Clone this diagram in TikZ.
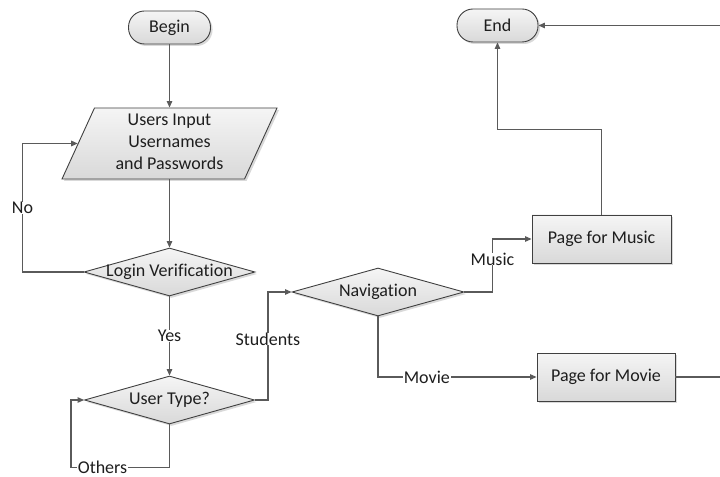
\documentclass[tikz,border=0pt]{standalone}
\usepackage{fontspec}
\setmainfont{Carlito}[Ligatures=NoCommon]
\usetikzlibrary{shapes.geometric,arrows.meta,shadows,calc}
\definecolor{linec}{HTML}{5A5A5A}
\definecolor{borderc}{HTML}{404040}
\definecolor{txtc}{HTML}{1E1E1E}
\begin{document}
\begin{tikzpicture}[x=1bp,y=-1bp,
  every node/.style={font=\fontsize{18bp}{22bp}\selectfont, text=txtc},
  shp/.style={draw=borderc, line width=0.9bp, top color=black!4, bottom color=black!15,
    drop shadow={shadow xshift=2bp, shadow yshift=-2bp, fill=black!15, opacity=1}},
  term/.style={shp, rectangle, rounded corners=16bp, minimum width=82bp, minimum height=33bp, inner sep=0pt},
  proc/.style={shp, rectangle, minimum height=48bp, inner sep=0pt},
  dec/.style={shp, diamond, minimum width=171bp, minimum height=48bp, inner sep=0pt},
  io/.style={shp, trapezium, trapezium left angle=63.8, trapezium right angle=116.2,
    trapezium stretches body, minimum width=215bp, minimum height=71bp, inner sep=0pt},
  arr/.style={draw=linec, line width=1.1bp, -{Triangle[length=6.5bp,width=5.5bp]}},
  lbl/.style={fill=white, inner xsep=1bp, inner ysep=0bp}]
\clip (0,0) rectangle (720,477);
\fill[white] (0,0) rectangle (720,477);
\node[term] (begin) at (169.5,27.5) {Begin};
\node[io] (input) at (169.5,143.5) {\makebox[0pt]{\begin{tabular}{@{}c@{}}Users Input\\Usernames\\and Passwords\end{tabular}}};
\node[dec] (login) at (169.5,272) {\makebox[0pt]{Login Verification}};
\node[dec, minimum width=170bp] (utype) at (169.5,400) {\makebox[0pt]{User Type?}};
\node[dec, minimum width=172bp] (nav) at (378,292) {\makebox[0pt]{Navigation}};
\node[proc, minimum width=139bp] (music) at (601.5,239) {Page for Music};
\node[proc, minimum width=138bp] (movie) at (606,377) {Page for Movie};
\node[term, minimum width=81bp] (end) at (497.5,25.5) {End};

\draw[arr] (begin.south) -- (begin.south |- input.north);
\draw[arr] (input.south -| login.north) -- (login.north);
\draw[arr] (login.west) -- ++(-61,0) |- node[pos=0.25,lbl]{No} (input.west);
\draw[arr] (login.south) -- node[midway,lbl]{Yes} (utype.north);
\draw[arr] (utype.south) -- ++(0,43) -- node[pos=0.68,lbl]{Others} ++(-98.5,0) |- (utype.west);
\draw[arr] (utype.east) -- ++(13,0) |- node[pos=0.282,lbl]{Students} (nav.west);
\draw[arr] (nav.east) -- ++(28,0) |- node[pos=0.311,lbl]{Music} (music.west);
\draw[arr] (nav.south) |- node[pos=0.654,lbl]{Movie} (movie.west);
\draw[arr] (music.north) -- ++(0,-85) -| (end.south);
\draw[arr] (movie.east) -- ++(48,0) |- (end.east);
\end{tikzpicture}
\end{document}
